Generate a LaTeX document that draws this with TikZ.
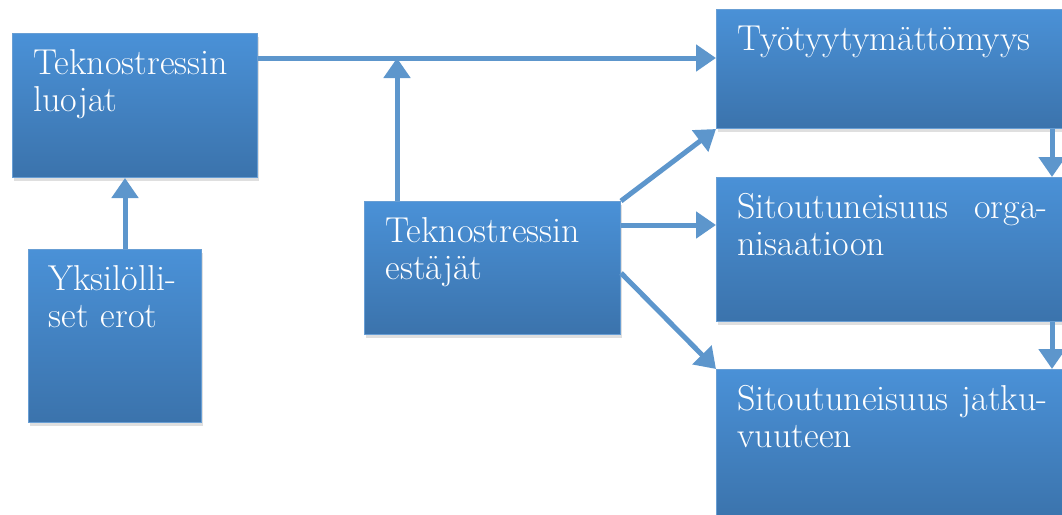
\documentclass[tikz,border=0pt]{standalone}
\usepackage{tikz}
\usetikzlibrary{arrows.meta, shadows}
\usepackage{xcolor}
\definecolor{boxtop}{RGB}{74,145,215}
\definecolor{boxbottom}{RGB}{59,115,172}
\definecolor{boxedge}{RGB}{104,158,212}
\definecolor{arrowblue}{RGB}{93,150,204}

\begin{document}
\begin{tikzpicture}[x=1pt, y=-1pt, every node/.style={font=\fontsize{36}{37}\selectfont}]
  \tikzstyle{block} = [rectangle, anchor=north west, draw=boxedge, line width=1pt, top color=boxtop, bottom color=boxbottom, text=white, align=left, inner xsep=21pt, inner ysep=19pt, text height=22pt, drop shadow={shadow xshift=1pt, shadow yshift=-3pt, opacity=0.25}]
  \tikzstyle{arrow} = [draw=arrowblue, line width=5pt, -{Triangle[length=20pt, width=26pt]}]

  \useasboundingbox (0,0) rectangle (1062,514);

  \node (luojat) [block, text width=203pt, text depth=84pt] at (12,33) {Teknostressin\\luojat};
  \node (erot) [block, text width=133pt, text depth=113pt, inner xsep=20pt] at (28,249) {Yksilölli-\\set erot};
  \node (estajat) [block, text width=214pt, text depth=73pt] at (364,201) {Teknostressin\\estäjät};
  \node (tyytym) [block, text width=310pt, text depth=59pt] at (716,9) {Työtyytymättömyys};
  \node (organ) [block, text width=310pt, text depth=84pt] at (716,177) {Sitoutuneisuus\hfill orga-\\nisaatioon};
  \node (jatku) [block, text width=310pt, text depth=90pt] at (716,369) {Sitoutuneisuus\hfill jatku-\\vuuteen};

  \coordinate (lout) at ([yshift=-25pt]luojat.north east);
  \coordinate (cross) at ([xshift=33pt]estajat.north west |- lout);

  \draw [arrow] (lout) -- (lout -| tyytym.west);
  \draw [arrow] ([xshift=33pt]estajat.north west) -- (cross);
  \draw [arrow] ([xshift=10pt]erot.north) -- ([xshift=10pt]erot.north |- luojat.south);
  \draw [arrow] (estajat.north east) -- (tyytym.south west);
  \draw [arrow] ([yshift=-24pt]estajat.north east) -- ([yshift=-24pt]estajat.north east -| organ.west);
  \draw [arrow] ([yshift=-72pt]estajat.north east) -- (jatku.north west);
  \draw [arrow] ([xshift=336pt]tyytym.south west) -- ([xshift=336pt]tyytym.south west |- organ.north);
  \draw [arrow] ([xshift=336pt]organ.south west) -- ([xshift=336pt]organ.south west |- jatku.north);
\end{tikzpicture}
\end{document}
